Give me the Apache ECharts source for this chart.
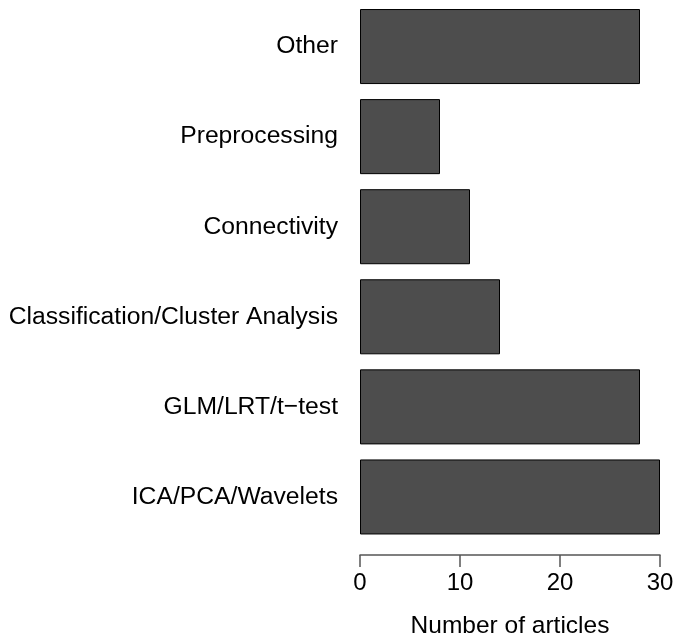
<!DOCTYPE html>
<html><head><meta charset="utf-8">
<script src="https://cdn.jsdelivr.net/npm/echarts@6/dist/echarts.min.js"></script>
<style>html,body{margin:0;padding:0;background:#fff}#c{width:682px;height:644px}</style>
</head><body><div id="c"></div>
<script>
const categories = ["ICA/PCA/Wavelets", "GLM/LRT/t\u2212test", "Classification/Cluster Analysis", "Connectivity", "Preprocessing", "Other"];
const values = [30, 28, 14, 11, 8, 28];
const xTicks = [0, 10, 20, 30];
const xTitle = "Number of articles";

const chart = echarts.init(document.getElementById('c'), null, {renderer: 'canvas'});
const font = "'Liberation Sans', Arial, Helvetica, sans-serif";
chart.setOption({
  animation: false,
  backgroundColor: '#ffffff',
  grid: {left: 360, width: 300, top: 1.5, height: 544},
  xAxis: {
    type: 'value', min: xTicks[0], max: xTicks[xTicks.length - 1], interval: 10,
    offset: 13,
    axisLine: {show: true, lineStyle: {color: '#555555', width: 1.5}},
    axisTick: {show: true, length: 12, lineStyle: {color: '#555555', width: 1.5}},
    splitLine: {show: false},
    axisLabel: {color: '#000', fontSize: 24, fontFamily: font, margin: 16},
    name: xTitle, nameLocation: 'middle', nameGap: 59,
    nameTextStyle: {color: '#000', fontSize: 24.5, fontFamily: font}
  },
  yAxis: {
    type: 'category', data: categories,
    axisLine: {show: false}, axisTick: {show: false},
    axisLabel: {color: '#000', fontSize: 24.7, fontFamily: font, margin: 22}
  },
  series: [{
    type: 'bar', data: values, barCategoryGap: '16.7%',
    itemStyle: {color: '#4d4d4d', borderColor: '#000', borderWidth: 1}
  }]
});
</script></body></html>
